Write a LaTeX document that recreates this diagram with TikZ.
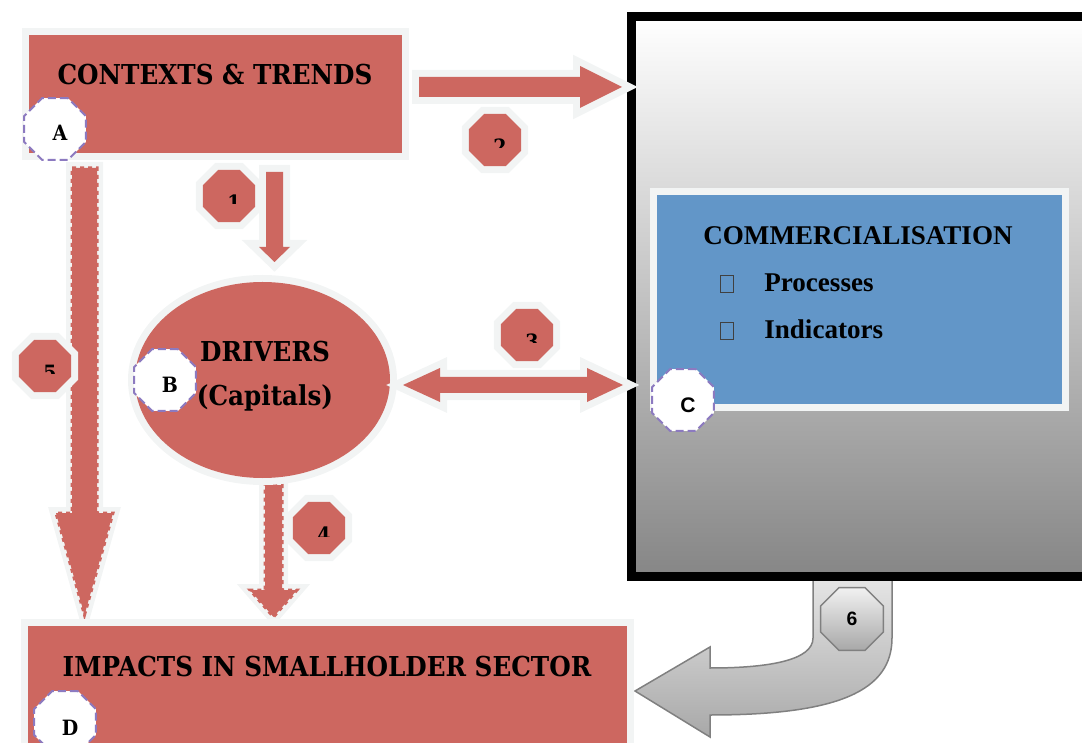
\documentclass[tikz,border=0pt]{standalone}
\usepackage{fontspec}
\newfontfamily\tnr{Liberation Serif}
\newfontfamily\arl{Liberation Sans}
\newfontfamily\slab{DejaVu Serif Condensed}
\usetikzlibrary{shapes.geometric,calc}

\definecolor{brick}{RGB}{205,103,96}
\definecolor{haze}{RGB}{242,244,244}
\definecolor{skyblue}{RGB}{98,150,200}
\definecolor{lilac}{RGB}{140,122,192}
\definecolor{gbot}{RGB}{134,134,134}
\definecolor{ashlight}{RGB}{232,232,232}
\definecolor{ashdark}{RGB}{168,168,168}
\definecolor{ashline}{RGB}{128,128,128}

\tikzset{
  blockfill/.style={fill=brick, preaction={draw=haze, line width=2.8mm}},
  dashblock/.style={fill=brick, preaction={draw=haze, line width=2.4mm},
    postaction={draw=brick, line width=0.6mm, dash pattern=on 0.8mm off 0.8mm}},
  octo/.style={regular polygon, regular polygon sides=8, inner sep=0pt},
  numoct/.style={octo, minimum size=11.3mm, blockfill},
  letoct/.style={octo, minimum size=13.4mm, fill=white, draw=lilac, line width=0.4mm,
    dash pattern=on 1.6mm off 0.8mm},
  bigtitle/.style={font=\slab\bfseries\fontsize{15.6}{18}\selectfont, inner sep=0pt},
  bluetext/.style={font=\tnr\bfseries\fontsize{15.4}{17}\selectfont, inner sep=0pt},
  numtext/.style={font=\slab\bfseries\fontsize{12}{13}\selectfont, inner sep=0pt},
  tofu/.style={draw=black!75, line width=0.15mm, minimum width=2.6mm, minimum height=3.4mm, inner sep=0pt}
}

% numbered octagon, digit cut off half way
\newcommand\drawnum[3]{%
  \node[numoct] (#1) at (#2) {};
  \begin{scope}
    \clip ($(#1.center)+(-20,-20)$) rectangle ($(#1.center)+(20,8)$);
    \node[numtext] (#1txt) at ($(#1.center)+(5,7)$) {#3};
  \end{scope}}

\begin{document}
\begin{tikzpicture}[x=0.2mm,y=-0.2mm]
  \useasboundingbox (0,0) rectangle (1082,743);
  \clip (0,0) rectangle (1082,743);

  %%%%% grey return arrow (6) %%%%%
  \draw[ashline, line width=0.3mm, top color=ashlight, bottom color=ashdark]
    (813,570) -- (813,638) .. controls (813,660) and (770,668) .. (710,668)
    -- (710,647) -- (635,691) -- (710,737) -- (710,715)
    .. controls (840,715) and (892,690) .. (892,638) -- (892,570) -- cycle;

  %%%%% commercialisation frame %%%%%
  \draw[line width=1.8mm, top color=white, bottom color=gbot] (631.5,17) rectangle (1100,576);
  \path[blockfill, fill=skyblue] (657,195) rectangle (1062,404);
  \node[bluetext] (comtitle) at (858,236) {COMMERCIALISATION};
  \node[tofu] (procbox) at (726.5,283.5) {};
  \node[bluetext, anchor=base west] (proc) at (764,292) {Processes};
  \node[tofu] (indbox) at (726.5,330.5) {};
  \node[bluetext, anchor=base west] (ind) at (764,339) {Indicators};

  %%%%% dashed arrows 5 and 4 %%%%%
  \path[dashblock] (72,168) -- (97,168) -- (97,513) -- (113,513) -- (84.5,615) -- (56,513) -- (72,513) -- cycle;
  \path[dashblock] (265,485) -- (282,485) -- (282,590) -- (297,590) -- (273.5,617) -- (250,590) -- (265,590) -- cycle;

  %%%%% boxes %%%%%
  \path[blockfill] (29,35) rectangle (402,153);
  \node[bigtitle] (ctx) at (215,75) {CONTEXTS \& TRENDS};
  \path[blockfill] (28,626) rectangle (627,770);
  \node[bigtitle] (imp) at (327,667) {IMPACTS IN SMALLHOLDER SECTOR};
  \node[ellipse, blockfill, minimum width=51mm, minimum height=39.2mm, inner sep=0pt] (drv) at (262.5,380) {};
  \node[bigtitle] (drvtop) at (265,352) {DRIVERS};
  \node[bigtitle] (drvbot) at (265,398) {(Capitals)};

  %%%%% solid arrows 1, 2, 3 %%%%%
  \path[blockfill] (266,172) -- (283,172) -- (283,247) -- (290,247) -- (274.5,262) -- (259,247) -- (266,247) -- cycle;
  \path[blockfill] (419,77) -- (580,77) -- (580,66) -- (622,87) -- (580,108) -- (580,97) -- (419,97) -- cycle;
  \path[blockfill] (403,385) -- (440,368) -- (440,377) -- (587,377) -- (587,368) -- (623,385)
    -- (587,402) -- (587,393) -- (440,393) -- (440,402) -- cycle;

  %%%%% number tags %%%%%
  \drawnum{n1}{229,196}{1}
  \drawnum{n2}{495,140}{2}
  \drawnum{n3}{527,335}{3}
  \drawnum{n4}{319,528}{4}
  \drawnum{n5}{45,366}{5}
  \node[octo, minimum size=13.6mm, draw=ashline, line width=0.3mm, top color=ashlight!60!white, bottom color=ashdark] (n6) at (852,619) {};
  \node[font=\arl\bfseries\fontsize{11}{12}\selectfont] (n6txt) at (n6) {6};

  %%%%% letter tags %%%%%
  \node[letoct] (tagA) at (55,129) {};
  \node[numtext] (tagAtxt) at ($(tagA)+(5,4)$) {A};
  \node[letoct] (tagB) at (165,380) {};
  \node[numtext] (tagBtxt) at ($(tagB)+(5,5)$) {B};
  \node[letoct] (tagC) at (683,400) {};
  \node[numtext, font=\arl\bfseries\fontsize{12}{13}\selectfont] (tagCtxt) at ($(tagC)+(5,5)$) {C};
  \node[letoct] (tagD) at (65,722) {};
  \node[numtext] (tagDtxt) at ($(tagD)+(5,6)$) {D};
\end{tikzpicture}
\end{document}
